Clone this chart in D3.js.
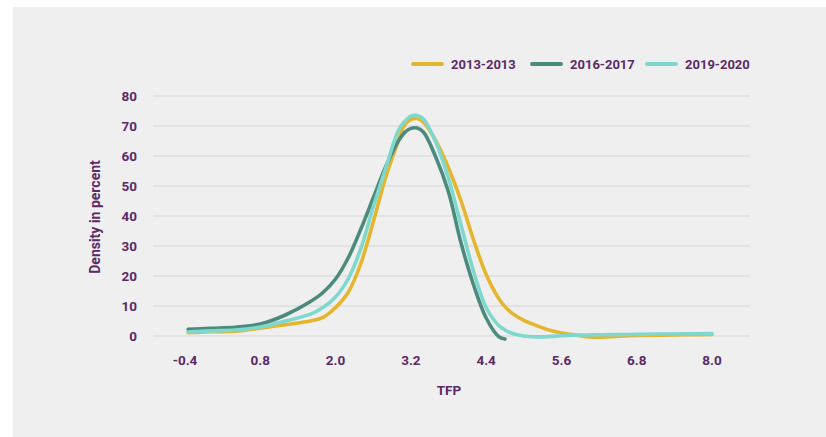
<!DOCTYPE html>
<html>
<head>
<meta charset="utf-8">
<script src="https://cdn.jsdelivr.net/npm/d3@7"></script>
<style>
  html, body { margin: 0; padding: 0; background: #ffffff; }
  svg { display: block; }
  text { font-family: Roboto, "DejaVu Sans", sans-serif; font-weight: 700; fill: #5a2a66; }
</style>
</head>
<body>
<script>
// ---- Data ----
const tfp = [-0.35, 0.0, 0.4, 0.8, 1.2, 1.6, 1.8, 2.0, 2.2, 2.4, 2.6, 2.8, 3.0, 3.1, 3.2, 3.3, 3.4, 3.6, 3.8, 4.0, 4.2, 4.4, 4.6, 4.7, 4.8, 5.0, 5.2, 5.4, 5.6, 5.8, 6.0, 6.2, 6.4, 6.8, 7.2, 7.6, 8.0];
const density2013 = [1.1, 1.4, 1.6, 2.6, 3.8, 5.0, 6.2, 9.5, 14.5, 24, 38, 53, 65, 70.3, 72.2, 72.5, 71.3, 65, 56, 45, 32, 20.5, 12.5, 9.8, 7.8, 5.2, 3.5, 2.0, 1.0, 0.4, -0.2, -0.4, -0.2, 0.2, 0.3, 0.4, 0.5];
const density2016 = [2.2, 2.6, 2.9, 4.0, 7.0, 11.5, 14.5, 19, 26, 35.5, 46, 56.5, 65, 67.8, 69.2, 69.3, 68, 59.5, 48, 31, 17, 6, -0.2, -1.0, null, null, null, null, null, null, null, null, null, null, null, null, null];
const density2019 = [1.3, 1.7, 2.0, 3.0, 5.0, 7.3, 9.5, 13, 19, 29, 43, 56, 68.5, 71.5, 73.3, 73.5, 72.3, 64.5, 52.5, 37, 21.5, 9.5, 3.5, 2.0, 1.0, 0.0, -0.3, -0.2, 0.1, 0.3, 0.35, 0.4, 0.45, 0.55, 0.65, 0.75, 0.8];
const seriesNames = ["2013-2013", "2016-2017", "2019-2020"];
const seriesColors = ["#e6b52e", "#4b8a7d", "#7fd8cd"];
const xTicks = [-0.4, 0.8, 2.0, 3.2, 4.4, 5.6, 6.8, 8.0];
const yTicks = [0, 10, 20, 30, 40, 50, 60, 70, 80];

const W = 826, H = 437;
const svg = d3.select("body").append("svg").attr("width", W).attr("height", H);

// panel background
svg.append("rect").attr("x", 13).attr("y", 7).attr("width", W - 13).attr("height", H - 7).attr("fill", "#efefef");

const x = d3.scaleLinear().domain([-0.4, 8.0]).range([185, 712]);
const y = d3.scaleLinear().domain([0, 80]).range([336, 96]);
const gridLeft = 153, gridRight = 750;

// gridlines
svg.append("g").selectAll("line").data(yTicks).join("line")
  .attr("x1", gridLeft).attr("x2", gridRight)
  .attr("y1", d => y(d)).attr("y2", d => y(d))
  .attr("stroke", "#d6d6d6").attr("stroke-width", 1.2);

// y tick labels
svg.append("g").selectAll("text").data(yTicks).join("text")
  .attr("x", 137).attr("y", d => y(d)).attr("dy", "0.35em")
  .attr("text-anchor", "end").attr("font-size", 13.5)
  .text(d => d);

// x tick labels
svg.append("g").selectAll("text").data(xTicks).join("text")
  .attr("x", d => x(d)).attr("y", 365)
  .attr("text-anchor", "middle").attr("font-size", 13.5)
  .text(d => d.toFixed(1));

// axis titles
svg.append("text").attr("x", 449).attr("y", 395).attr("text-anchor", "middle")
  .attr("font-size", 13.5).text("TFP");
svg.append("text").attr("transform", "translate(100,217) rotate(-90)")
  .attr("text-anchor", "middle").attr("font-size", 14).text("Density in percent");

// lines
const allSeries = [density2013, density2016, density2019];
const line = d3.line()
  .x(d => x(d[0])).y(d => y(d[1]))
  .curve(d3.curveCatmullRom.alpha(0.5));

allSeries.forEach((vals, i) => {
  const pts = tfp.map((t, j) => [t, vals[j]]).filter(d => d[1] !== null);
  svg.append("path").datum(pts)
    .attr("d", line)
    .attr("fill", "none")
    .attr("stroke", seriesColors[i])
    .attr("stroke-width", 3.6)
    .attr("stroke-linecap", "round")
    .attr("stroke-linejoin", "round");
});

// legend
const legendX = [413, 532, 647];
const lg = svg.append("g");
seriesNames.forEach((name, i) => {
  lg.append("line")
    .attr("x1", legendX[i]).attr("x2", legendX[i] + 29)
    .attr("y1", 64).attr("y2", 64)
    .attr("stroke", seriesColors[i]).attr("stroke-width", 4)
    .attr("stroke-linecap", "round");
  lg.append("text")
    .attr("x", legendX[i] + 38).attr("y", 64).attr("dy", "0.35em")
    .attr("font-size", 13).text(name);
});
</script>
</body>
</html>
